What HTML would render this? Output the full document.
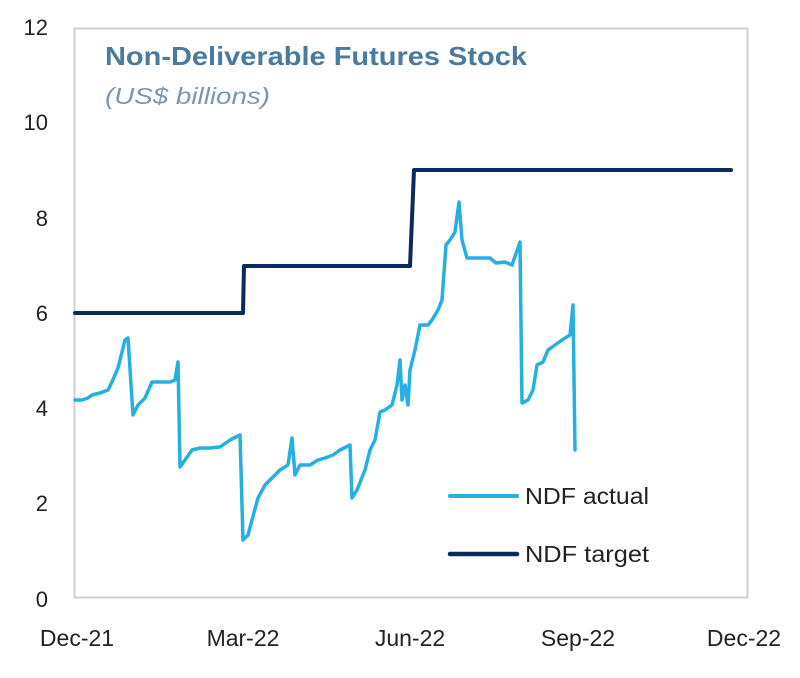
<!DOCTYPE html>
<html><head><style>
body{margin:0;background:#fff;}
svg{display:block;font-family:"Liberation Sans",sans-serif;}
</style></head><body>
<svg width="800" height="678" viewBox="0 0 800 678">
<rect x="0" y="0" width="800" height="678" fill="#fff"/>
<rect x="74.5" y="28.5" width="673" height="569" fill="none" stroke="#d0d0d0" stroke-width="2"/>
<text x="105" y="65" font-size="26" font-weight="bold" fill="#4a7a9e" textLength="422" lengthAdjust="spacingAndGlyphs">Non-Deliverable Futures Stock</text>
<text x="105" y="104" font-size="23" font-style="italic" fill="#7c98ad" textLength="165" lengthAdjust="spacingAndGlyphs">(US$ billions)</text>
<g font-size="22" fill="#222" text-anchor="end">
<text x="48" y="35">12</text><text x="48" y="130">10</text><text x="48" y="226">8</text>
<text x="48" y="321">6</text><text x="48" y="416">4</text><text x="48" y="511">2</text><text x="48" y="607">0</text>
</g>
<g font-size="23" fill="#222" text-anchor="middle">
<text x="77" y="646">Dec-21</text><text x="243" y="646">Mar-22</text><text x="410" y="646">Jun-22</text>
<text x="578" y="646">Sep-22</text><text x="744" y="646">Dec-22</text>
</g>
<polyline fill="none" stroke="#0c2a5e" stroke-width="4" stroke-linejoin="round" stroke-linecap="round"
points="75,313 243,313 244,266 410,266 414,170 731,170"/>
<polyline fill="none" stroke="#26afe3" stroke-width="3.5" stroke-linejoin="round" stroke-linecap="round"
points="75,400 82,400 88,398 92,395 100,393 108,390 112,382 118,368 125,340 128,338 133,415 138,405 145,398 152,382 160,382 170,382 175,380 178,362 180,467 185,460 192,450 200,448 210,448 220,447 230,440 240,435 243,540 248,535 252,520 258,498 265,485 272,478 280,470 288,465 292,438 295,475 300,465 310,465 318,460 325,458 333,455 340,450 350,445 352,498 357,490 365,470 370,450 375,440 380,412 385,410 392,405 397,385 400,360 402,400 405,385 408,405 410,370 415,350 420,325 428,325 432,320 438,310 442,300 446,245 450,240 455,232 459,202 462,240 467,258 475,258 490,258 496,263 505,262 512,265 519,245 520,242 522,403 528,400 533,390 537,365 543,362 548,350 555,345 562,340 570,335 573,305 575,450"/>
<line x1="450" y1="496" x2="517" y2="496" stroke="#26afe3" stroke-width="4" stroke-linecap="round"/>
<line x1="450" y1="554" x2="517" y2="554" stroke="#0c2a5e" stroke-width="4.5" stroke-linecap="round"/>
<text x="525" y="504" font-size="23" fill="#222" textLength="124" lengthAdjust="spacingAndGlyphs">NDF actual</text>
<text x="525" y="562" font-size="23" fill="#222" textLength="124" lengthAdjust="spacingAndGlyphs">NDF target</text>
</svg>
</body></html>
